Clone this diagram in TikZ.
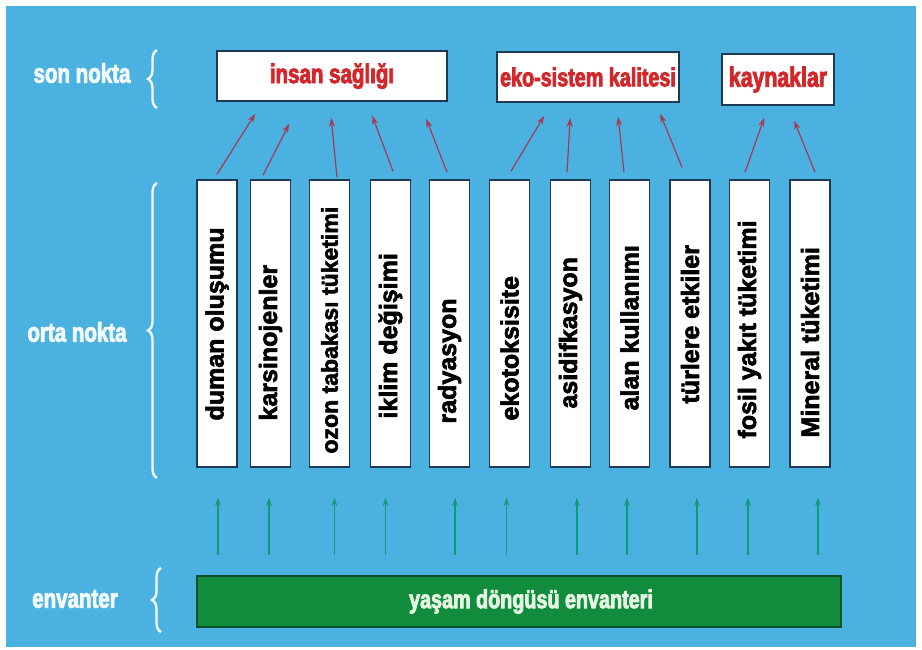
\documentclass[tikz,border=0pt]{standalone}
\usepackage{fontspec}
\setmainfont{Liberation Sans}
\newfontfamily\narrowfont{Liberation Sans}[FakeStretch=0.76, BoldFeatures={FakeBold=3}]
\newfontfamily\heavyfont{Liberation Sans}[BoldFeatures={FakeBold=2.5}]
\usepackage{graphicx}
\usetikzlibrary{calc,arrows.meta,decorations.pathreplacing}
\definecolor{skyBg}{HTML}{4AB1E1}
\definecolor{boxLine}{HTML}{1E3A52}
\definecolor{redText}{HTML}{D2282C}
\definecolor{redArrow}{HTML}{A53A55}
\definecolor{tealArrow}{HTML}{129A78}
\definecolor{barFill}{HTML}{108C3C}
\definecolor{barLine}{HTML}{0B4E2A}
\definecolor{barText}{HTML}{E4F6E2}
\definecolor{sideText}{HTML}{F2FAFF}

% rotated text inside a column, #1 = gap below the text
\newcommand{\vtxt}[2]{\rotatebox{90}{\makebox[280pt][l]{\hspace{#1pt}#2}}}

\begin{document}
\begin{tikzpicture}[
  x=1pt, y=-1pt,
  side/.style={text=sideText, font=\narrowfont\bfseries\fontsize{27}{29}\selectfont, inner sep=0pt},
  brc/.style={draw=sideText, line width=2.4pt, decorate,
              decoration={brace, amplitude=9pt, aspect=0.5}},
  endbox/.style={draw=boxLine, line width=1.6pt, fill=white, text=redText,
                 font=\narrowfont\bfseries\fontsize{27}{29}\selectfont, inner sep=0pt},
  mid/.style={draw=boxLine, line width=1.4pt, fill=white, text=black, inner sep=0pt,
              minimum width=40pt, minimum height=287pt,
              font=\heavyfont\bfseries\fontsize{25}{27}\selectfont},
  inv/.style={draw=barLine, line width=1.6pt, fill=barFill, text=barText, inner sep=0pt,
              minimum width=644pt, minimum height=51pt,
              font=\narrowfont\bfseries\fontsize{26}{28}\selectfont},
  redarr/.style={-{Stealth[length=9pt,width=6pt]}, line width=1.2pt, draw=redArrow},
  grnarr/.style={-{Stealth[length=8pt,width=5.5pt]}, line width=1.2pt, draw=tealArrow},
]

% ---------------- BACKGROUND ----------------
\fill[white] (0,0) rectangle (922,650);
\fill[skyBg] (6,6) rectangle (916,647);

% ---------------- LEVEL LABELS ----------------
\node[side] (SON) at (82,73) {son nokta};
\node[side] (ORTA) at (77,332) {orta nokta};
\node[side] (ENV) at (75,599) {envanter};
\draw[brc] (157,108) -- (157,50);
\draw[brc] (157,478) -- (157,183);
\draw[brc] (161,632) -- (161,568);

% ---------------- END POINTS ----------------
\node[endbox, minimum width=230pt, minimum height=50pt] (HEALTH) at (332,76) {insan sağlığı};
\node[endbox, minimum width=182pt, minimum height=50pt, font=\narrowfont\bfseries\fontsize{26}{28}\selectfont]
  (ECO) at (588,77) {eko-sistem kalitesi};
\node[endbox, minimum width=112pt, minimum height=51pt, font=\narrowfont\bfseries\fontsize{28}{30}\selectfont]
  (RES) at (778,79.5) {kaynaklar};

% ---------------- MID POINTS ----------------
\node[mid] (SMOG) at (217,323.5) {\vtxt{43}{duman oluşumu}};
\node[mid] (CARC) at (270.5,323.5) {\vtxt{43}{karsinojenler}};
\node[mid] (OZON) at (329.5,323.5) {\vtxt{10}{\fontsize{23}{25}\selectfont ozon tabakası tüketimi}};
\node[mid] (CLIM) at (390.5,323.5) {\vtxt{45}{iklim değişimi}};
\node[mid] (RAD) at (449.5,323.5) {\vtxt{40}{radyasyon}};
\node[mid] (ETOX) at (509.5,323.5) {\vtxt{43}{ekotoksisite}};
\node[mid] (ACID) at (570.5,323.5) {\vtxt{55}{asidifkasyon}};
\node[mid] (LAND) at (629.5,323.5) {\vtxt{53}{alan kullanımı}};
\node[mid] (SPEC) at (690,323.5) {\vtxt{60}{türlere etkiler}};
\node[mid] (FOSS) at (749.5,323.5) {\vtxt{25}{fosil yakıt tüketimi}};
\node[mid] (MINE) at (810,323.5) {\vtxt{26}{Mineral tüketimi}};

% ---------------- INVENTORY ----------------
\node[inv] (LCI) at (519,601.5) {\hspace{24pt}yaşam döngüsü envanteri};

% ---------------- EDGES: mid -> end ----------------
\draw[redarr] ([yshift=5pt]SMOG.north) -- ([xshift=39pt,yshift=-12pt]HEALTH.south west);
\draw[redarr] ([xshift=-7.5pt,yshift=4pt]CARC.north) -- ([xshift=73pt,yshift=-22pt]HEALTH.south west);
\draw[redarr] ([xshift=7.5pt,yshift=2pt]OZON.north) -- ([xshift=115pt,yshift=-16pt]HEALTH.south west);
\draw[redarr] ([xshift=2.5pt,yshift=8pt]CLIM.north) -- ([xshift=156pt,yshift=-14pt]HEALTH.south west);
\draw[redarr] ([xshift=-2.5pt,yshift=7pt]RAD.north) -- ([xshift=210pt,yshift=-17pt]HEALTH.south west);
\draw[redarr] ([xshift=1.5pt,yshift=8pt]ETOX.north) -- ([xshift=48pt,yshift=-13pt]ECO.south west);
\draw[redarr] ([xshift=-3.5pt,yshift=7pt]ACID.north) -- ([xshift=74pt,yshift=-15pt]ECO.south west);
\draw[redarr] ([xshift=-5.5pt,yshift=7pt]LAND.north) -- ([xshift=122pt,yshift=-14pt]ECO.south west);
\draw[redarr] ([xshift=-8pt,yshift=12pt]SPEC.north) -- ([xshift=164pt,yshift=-11pt]ECO.south west);
\draw[redarr] ([xshift=-4.5pt,yshift=7pt]FOSS.north) -- ([xshift=43pt,yshift=-12pt]RES.south west);
\draw[redarr] ([xshift=5pt,yshift=7pt]MINE.north) -- ([xshift=73pt,yshift=-15pt]RES.south west);

% ---------------- EDGES: inventory -> mid ----------------
\draw[grnarr] ($(LCI.north -| SMOG.south)+(1,-20)$) -- ($(SMOG.south)+(1,30)$);
\draw[grnarr] ($(LCI.north -| CARC.south)+(-1.5,-20)$) -- ($(CARC.south)+(-1.5,30)$);
\draw[grnarr] ($(LCI.north -| OZON.south)+(5,-20)$) -- ($(OZON.south)+(5,30)$);
\draw[grnarr] ($(LCI.north -| CLIM.south)+(-5,-20)$) -- ($(CLIM.south)+(-5,30)$);
\draw[grnarr] ($(LCI.north -| RAD.south)+(5.5,-20)$) -- ($(RAD.south)+(5.5,30)$);
\draw[grnarr] ($(LCI.north -| ETOX.south)+(-3,-20)$) -- ($(ETOX.south)+(-3,30)$);
\draw[grnarr] ($(LCI.north -| ACID.south)+(6.5,-20)$) -- ($(ACID.south)+(6.5,30)$);
\draw[grnarr] ($(LCI.north -| LAND.south)+(-2.5,-20)$) -- ($(LAND.south)+(-2.5,30)$);
\draw[grnarr] ($(LCI.north -| SPEC.south)+(7,-20)$) -- ($(SPEC.south)+(7,30)$);
\draw[grnarr] ($(LCI.north -| FOSS.south)+(-1.5,-20)$) -- ($(FOSS.south)+(-1.5,30)$);
\draw[grnarr] ($(LCI.north -| MINE.south)+(8,-20)$) -- ($(MINE.south)+(8,30)$);
\end{tikzpicture}
\end{document}
